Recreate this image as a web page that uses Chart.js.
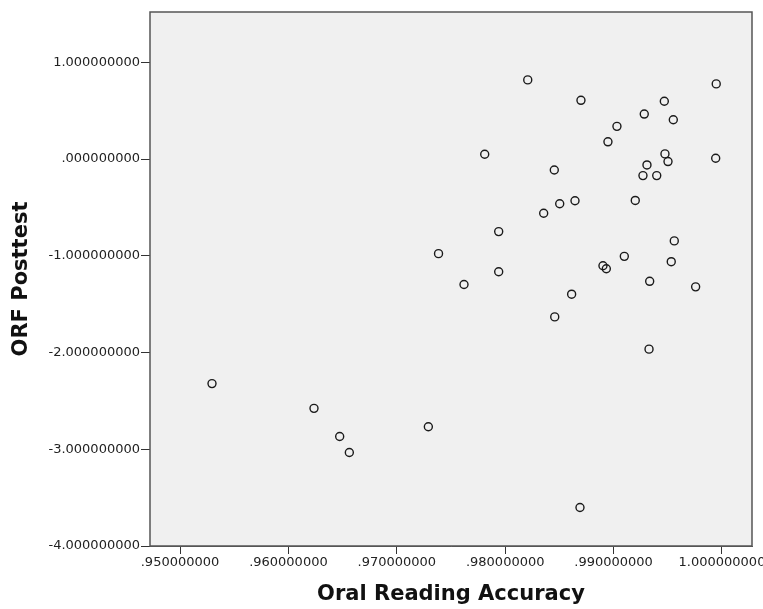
<!DOCTYPE html>
<html>
<head>
<meta charset="utf-8">
<script src="https://cdn.jsdelivr.net/npm/chart.js@4/dist/chart.umd.min.js"></script>
<style>
  body { margin: 0; background: #fff; }
  canvas { display: block; }
</style>
</head>
<body>
<canvas id="myChart" width="763" height="609"></canvas>
<script>
// Oral Reading Accuracy (x) vs ORF Posttest (y)
const accuracy = [
    0.95295, 0.96236, 0.96473, 0.96562, 0.97291, 0.97385, 0.97620, 0.97811,
    0.97940, 0.97940, 0.98208, 0.98355, 0.98453, 0.98457, 0.98503, 0.98613,
    0.98644, 0.98699, 0.98690, 0.98902, 0.98933, 0.98948, 0.99031, 0.99099,
    0.99200, 0.99271, 0.99283, 0.99308, 0.99327, 0.99333, 0.99398, 0.99468,
    0.99474, 0.99502, 0.99551, 0.99560, 0.99532, 0.99757, 0.99947, 0.99942
]
const posttest = [
    -2.321, -2.577, -2.868, -3.034, -2.767, -0.978, -1.297, 0.050,
    -0.750, -1.165, 0.818, -0.560, -0.113, -1.632, -0.462, -1.397,
    -0.431, 0.607, -3.602, -1.103, -1.134, 0.178, 0.338, -1.006,
    -0.428, -0.171, 0.465, -0.061, -1.965, -1.264, -0.171, 0.597,
    0.053, -0.026, 0.406, -0.846, -1.061, -1.321, 0.777, 0.008
]
const xTicks = [0.95, 0.96, 0.97, 0.98, 0.99, 1.00]
const yTicks = [-4, -3, -2, -1, 0, 1]

const points = accuracy.map((v, i) => ({x: v, y: posttest[i]}));

// SPSS style number: 9 decimals, no leading zero
function spssLabel(v) {
    return Number(v).toFixed(9).replace(/^(-?)0\./, '$1.');
}

const framePlugin = {
    id: 'frame',
    beforeDatasetsDraw(chart) {
        const a = chart.chartArea;
        const c = chart.ctx;
        c.save();
        c.fillStyle = '#f0f0f0';
        c.fillRect(a.left, a.top, a.right - a.left, a.bottom - a.top);
        c.restore();
    },
    afterDatasetsDraw(chart) {
        const a = chart.chartArea;
        const c = chart.ctx;
        c.save();
        c.strokeStyle = '#555';
        c.lineWidth = 1.5;
        c.strokeRect(a.left, a.top, a.right - a.left, a.bottom - a.top);
        c.restore();
    }
};

const tickFont = {family: 'DejaVu Sans', size: 13};
const titleFont = {family: 'DejaVu Sans', size: 21, weight: 'bold'};

const ctx = document.getElementById('myChart').getContext('2d');
const myChart = new Chart(ctx, {
    type: 'scatter',
    data: {
        datasets: [{
            data: points,
            pointStyle: 'circle',
            pointRadius: 4,
            pointBorderWidth: 1.4,
            pointBorderColor: '#1a1a1a',
            pointBackgroundColor: 'rgba(0,0,0,0)'
        }]
    },
    plugins: [framePlugin],
    options: {
        responsive: false,
        animation: false,
        layout: {
            padding: {left: 0, top: 12, right: 11, bottom: 0}
        },
        plugins: {
            legend: {display: false},
            tooltip: {enabled: false}
        },
        scales: {
            x: {
                type: 'linear',
                min: 0.94723,
                max: 1.00277,
                afterFit: s => {
                    s.height = 63;
                    s.paddingLeft = 0;
                    s.paddingRight = 0;
                },
                afterBuildTicks: axis => { axis.ticks = xTicks.map(v => ({value: v})); },
                grid: {
                    drawOnChartArea: false,
                    drawTicks: true,
                    tickLength: 8,
                    tickColor: '#333',
                    tickWidth: 1
                },
                border: {display: true, color: '#555', width: 1},
                ticks: {
                    font: tickFont,
                    color: '#222',
                    padding: 1,
                    maxRotation: 0,
                    autoSkip: false,
                    callback: v => spssLabel(v)
                },
                title: {
                    display: true,
                    text: 'Oral Reading Accuracy',
                    font: titleFont,
                    color: '#111',
                    padding: {top: 0, bottom: 2}
                }
            },
            y: {
                type: 'linear',
                min: -4,
                max: 1.52,
                afterFit: s => {
                    s.width = 150;
                    s.paddingTop = 0;
                    s.paddingBottom = 0;
                },
                afterBuildTicks: axis => { axis.ticks = yTicks.map(v => ({value: v})); },
                grid: {
                    drawOnChartArea: false,
                    drawTicks: true,
                    tickLength: 9,
                    tickColor: '#333',
                    tickWidth: 1
                },
                border: {display: true, color: '#555', width: 1},
                ticks: {
                    font: tickFont,
                    color: '#222',
                    padding: 1,
                    autoSkip: false,
                    callback: v => spssLabel(v)
                },
                title: {
                    display: true,
                    text: 'ORF Posttest',
                    font: titleFont,
                    color: '#111',
                    padding: {top: 9, bottom: 0}
                }
            }
        }
    }
});
</script>
</body>
</html>
